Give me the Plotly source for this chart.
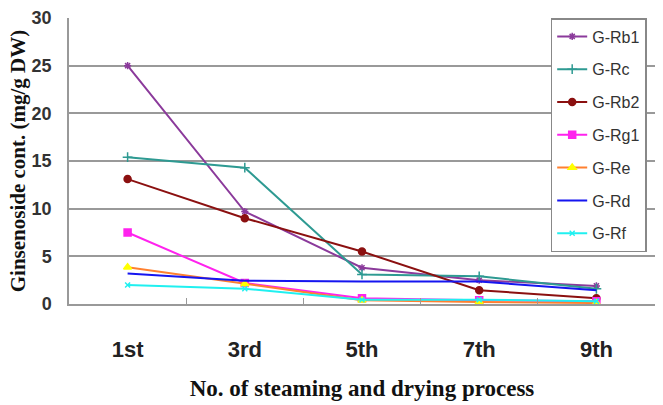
import plotly.graph_objects as go

categories = ["1st", "3rd", "5th", "7th", "9th"]
rb1 = [25.0, 9.7, 3.8, 2.5, 1.9]
rc = [15.4, 14.3, 3.1, 2.9, 1.6]
rb2 = [13.1, 9.0, 5.5, 1.45, 0.6]
rg1 = [7.5, 2.2, 0.6, 0.4, 0.3]
re_ = [3.85, 2.1, 0.4, 0.2, 0.1]
rd = [3.2, 2.45, 2.35, 2.35, 1.45]
rf = [2.0, 1.6, 0.45, 0.45, 0.3]

series = [
    ("G-Rb1", rb1, "#8B3A9B", "#8B3A9B", "asterisk-open", 6),
    ("G-Rc", rc, "#2E9A92", "#2E9A92", "cross-thin-open", 7),
    ("G-Rb2", rb2, "#8B1010", "#8B1010", "circle", 7),
    ("G-Rg1", rg1, "#FF22EE", "#FF22EE", "square", 7),
    ("G-Re", re_, "#FF8030", "#FFFF00", "triangle-up", 7),
    ("G-Rd", rd, "#1515F0", "#1515F0", None, 0),
    ("G-Rf", rf, "#20F0F0", "#20F0F0", "x-thin-open", 5),
]

fig = go.Figure()
for name, vals, lc, mc, sym, sz in series:
    if sym is None:
        fig.add_trace(go.Scatter(x=categories, y=vals, name=name, mode="lines",
                                 legendgroup=name,
                                 line=dict(color=lc, width=2)))
    else:
        fig.add_trace(go.Scatter(x=categories, y=vals, name=name, mode="lines+markers",
                                 legendgroup=name,
                                 line=dict(color=lc, width=2),
                                 marker=dict(symbol=sym, size=sz, color=mc,
                                             line=dict(color=mc, width=1.5))))

fig.update_layout(
    width=663, height=405,
    margin=dict(l=69, r=8, t=10, b=99),
    paper_bgcolor="white", plot_bgcolor="white",
    showlegend=True,
    legend=dict(x=0.822, y=1.0, xanchor="left", yanchor="top",
                bgcolor="white", bordercolor="#888888", borderwidth=1.5,
                font=dict(family="Liberation Sans, Arial", size=16, color="#333333"),
                tracegroupgap=9, itemwidth=30),
    xaxis=dict(
        type="category", range=[-0.5, 4.5],
        showgrid=False, showline=True, linecolor="#999999", linewidth=1.5,
        ticks="inside", tickson="boundaries", ticklen=6, tickcolor="#999999",
        ticklabelstandoff=25,
        tickfont=dict(family="Liberation Sans, Arial", size=22, color="#222222", weight="bold"),
        title=dict(text="No. of steaming and drying process",
                   font=dict(family="Liberation Serif, Times New Roman", size=23, color="#111111", weight="bold"),
                   standoff=19),
    ),
    yaxis=dict(
        range=[0, 30], dtick=5,
        showgrid=True, gridcolor="#999999", gridwidth=1.5,
        showline=True, linecolor="#999999", linewidth=1.5,
        zeroline=False, ticks="",
        ticklabelstandoff=12,
        tickfont=dict(family="Liberation Sans, Arial", size=18, color="#333333", weight="bold"),
        title=dict(text="Ginsenoside cont. (mg/g DW)",
                   font=dict(family="Liberation Serif, Times New Roman", size=21, color="#111111", weight="bold"),
                   standoff=0),
    ),
)
fig.write_html("out.html")
